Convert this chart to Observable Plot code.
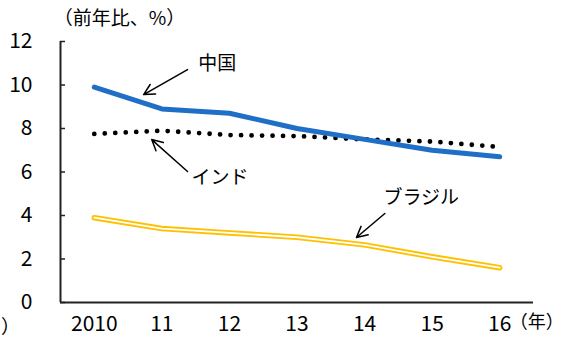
<!DOCTYPE html>
<html>
<head>
<meta charset="utf-8">
<script src="https://cdn.jsdelivr.net/npm/d3@7"></script>
<script src="https://cdn.jsdelivr.net/npm/@observablehq/plot@0.6"></script>
<style>
  html, body { margin: 0; padding: 0; background: #fff; }
</style>
</head>
<body>
<div id="chart"></div>
<script>
const years = [2010, 2011, 2012, 2013, 2014, 2015, 2016];
const xTickLabels = ["2010", "11", "12", "13", "14", "15", "16"];
const yTicks = [0, 2, 4, 6, 8, 10, 12];
const china = [9.9, 8.9, 8.7, 8.0, 7.5, 7.0, 6.7];
const india = [7.75, 7.9, 7.7, 7.65, 7.5, 7.4, 7.15];
const brazil = [3.9, 3.4, 3.2, 3.0, 2.65, 2.1, 1.6];

const seriesNames = ["中国", "インド", "ブラジル"];
// annotation label anchors (data coords) and arrows (tail -> head)
const labelX = [2011.54, 2011.44, 2014.28];
const labelY = [10.97, 5.75, 4.83];
const arrowX1 = [2011.38, 2011.38, 2014.30];
const arrowY1 = [10.71, 6.02, 4.09];
const arrowX2 = [2010.73, 2010.85, 2013.88];
const arrowY2 = [9.56, 7.49, 2.99];

const unitLabel = "（前年比、%）";
const yearLabel = "（年）";

const cjk = "'Noto Sans CJK JP', sans-serif";
const num = "'Liberation Sans Narrow', 'Arial Narrow', 'Noto Sans CJK JP', sans-serif";

const rows = (vals) => years.map((y, i) => ({year: y, value: vals[i]}));
const labels = seriesNames.map((n, i) => ({name: n, x: labelX[i], y: labelY[i]}));
const arrows = seriesNames.map((n, i) => ({x1: arrowX1[i], y1: arrowY1[i], x2: arrowX2[i], y2: arrowY2[i]}));

const chart = Plot.plot({
  width: 567,
  height: 344,
  marginLeft: 60,
  marginRight: 34,
  marginTop: 41,
  marginBottom: 42,
  style: {fontFamily: num, fontSize: "21px", color: "#000", background: "#fff"},
  x: {type: "linear", domain: [2009.5, 2016.5]},
  y: {domain: [0, 12]},
  marks: [
    Plot.axisX({ticks: years, tickSize: 0, tickPadding: 14, tickFormat: (d) => xTickLabels[years.indexOf(d)], label: null, fontSize: 21}),
    Plot.axisY({ticks: yTicks, tickSize: 0, tickPadding: 28, label: null, fontSize: 21}),
    Plot.tickY(yTicks, {y: (d) => d, insetRight: 468, stroke: "#222", strokeWidth: 1.5}),
    Plot.ruleY([0], {stroke: "#222", strokeWidth: 2}),
    Plot.ruleX([2009.5], {stroke: "#222", strokeWidth: 2}),
    // Brazil: yellow double line
    Plot.line(rows(brazil), {x: "year", y: "value", stroke: "#FFC000", strokeWidth: 5.5, strokeLinecap: "round", strokeLinejoin: "round"}),
    Plot.line(rows(brazil), {x: "year", y: "value", stroke: "#fff", strokeWidth: 1.8, strokeLinecap: "round", strokeLinejoin: "round"}),
    // India: dotted
    Plot.line(rows(india), {x: "year", y: "value", stroke: "#000", strokeWidth: 4.8, strokeLinecap: "round", strokeDasharray: "0,10.5"}),
    // China: thick blue
    Plot.line(rows(china), {x: "year", y: "value", stroke: "#1F6FC6", strokeWidth: 5, strokeLinecap: "round", strokeLinejoin: "round"}),
    // annotations
    Plot.arrow(arrows, {x1: "x1", y1: "y1", x2: "x2", y2: "y2", stroke: "#000", strokeWidth: 1.5, headLength: 12, headAngle: 55}),
    Plot.text(labels, {x: "x", y: "y", text: "name", textAnchor: "start", fontFamily: cjk, fontSize: 19, fill: "#000"}),
    Plot.text([unitLabel], {x: 2009.40, y: 13.06, text: (d) => d, textAnchor: "start", fontFamily: cjk, fontSize: 19, fill: "#000"}),
    Plot.text([yearLabel], {x: 2016.15, y: -0.92, text: (d) => d, textAnchor: "start", fontFamily: cjk, fontSize: 18, fill: "#000"}),
    Plot.text(["）"], {x: 2008.62, y: -1.15, text: (d) => d, textAnchor: "start", fontFamily: cjk, fontSize: 19, fill: "#000"})
  ]
});
document.getElementById("chart").appendChild(chart);
</script>
</body>
</html>
